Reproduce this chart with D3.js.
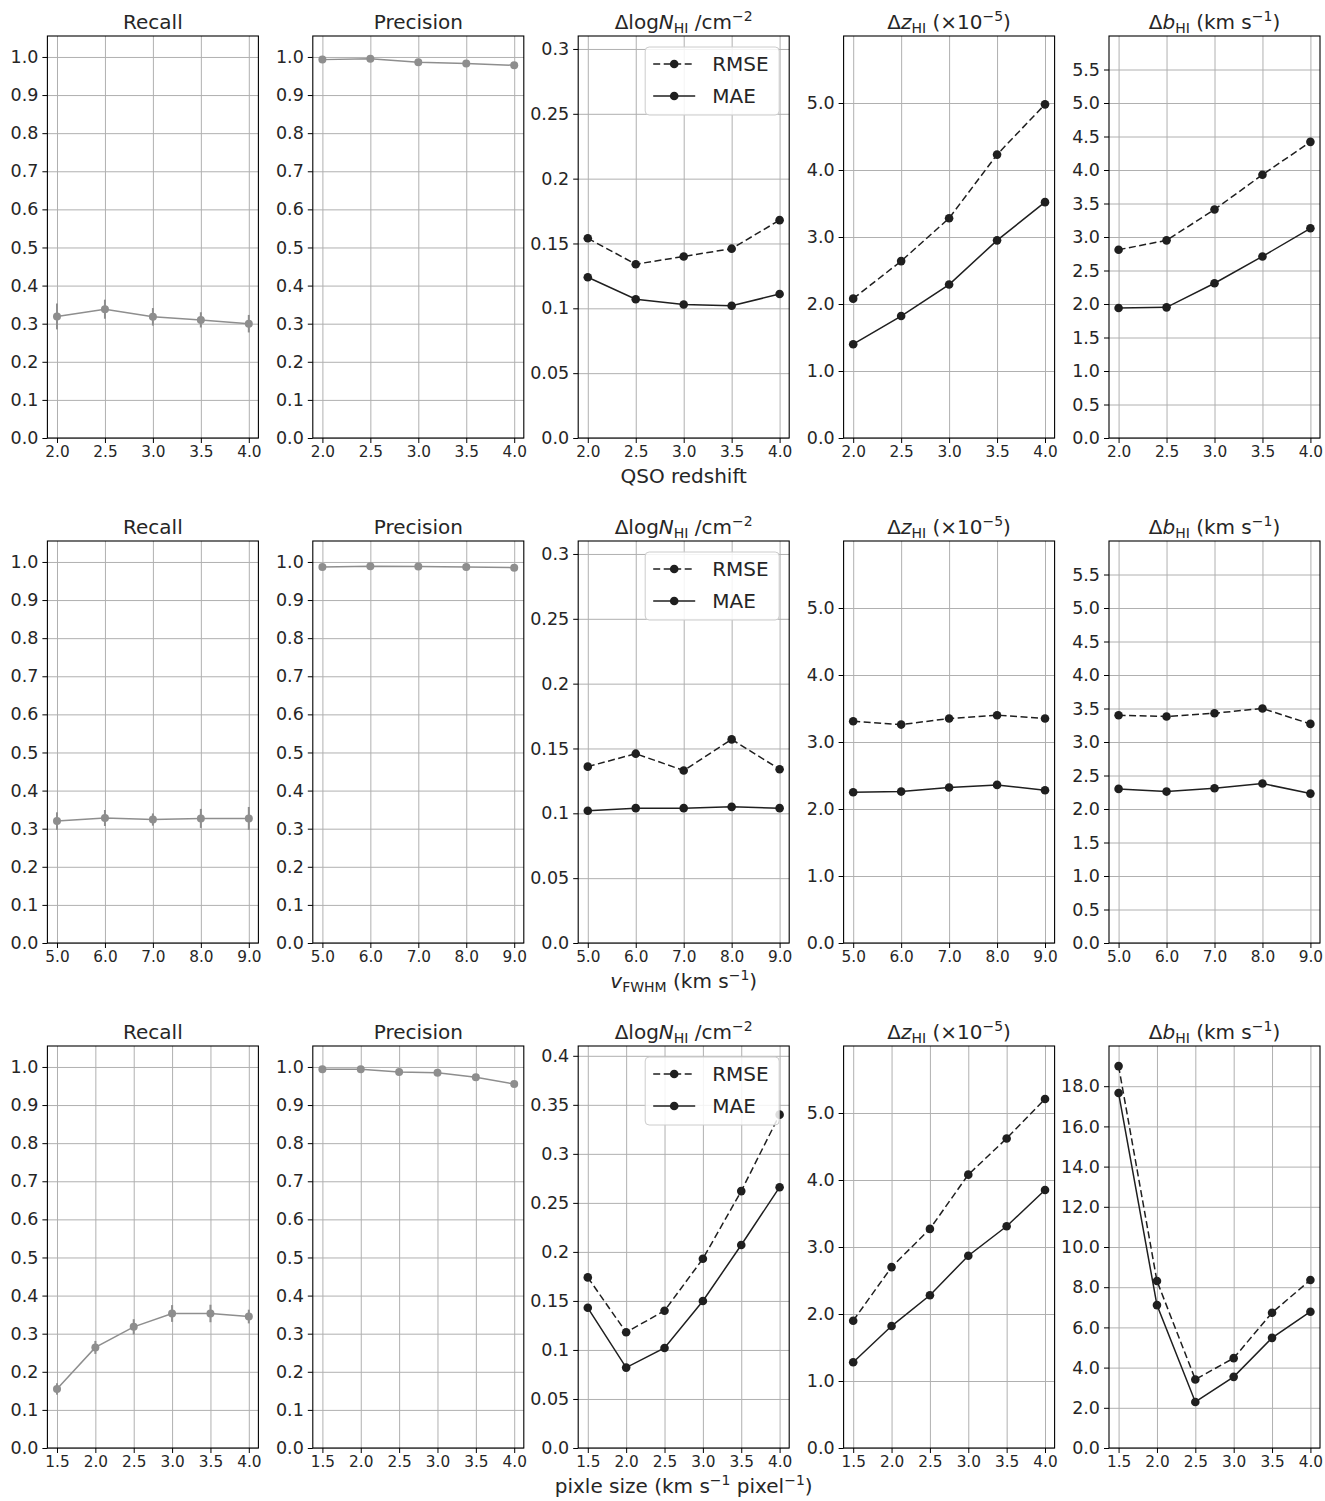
<!DOCTYPE html>
<html>
<head>
<meta charset="utf-8">
<script src="https://cdn.jsdelivr.net/npm/d3@7"></script>
<style>
  body { margin: 0; background: #fff; }
  svg { display: block; }
  text { font-family: "DejaVu Sans", sans-serif; fill: #262626; }
</style>
</head>
<body>
<svg id="fig" width="1325" height="1501"></svg>
<script>
// ---- x values of the three experiments ----
const redshiftX = [2.0, 2.5, 3.0, 3.5, 4.0];
const fwhmX = [5.0, 6.0, 7.0, 8.0, 9.0];
const pixelX = [1.5, 2.0, 2.5, 3.0, 3.5, 4.0];

// ---- x tick labels ----
const redshiftTicks = ["2.0", "2.5", "3.0", "3.5", "4.0"];
const fwhmTicks = ["5.0", "6.0", "7.0", "8.0", "9.0"];
const pixelTicks = ["1.5", "2.0", "2.5", "3.0", "3.5", "4.0"];

// ---- y tick labels ----
const unitTicks = ["0.0", "0.1", "0.2", "0.3", "0.4", "0.5", "0.6", "0.7", "0.8", "0.9", "1.0"];
const logNTicks = ["0.0", "0.05", "0.1", "0.15", "0.2", "0.25", "0.3"];
const logNTicksWide = ["0.0", "0.05", "0.1", "0.15", "0.2", "0.25", "0.3", "0.35", "0.4"];
const zTicks = ["0.0", "1.0", "2.0", "3.0", "4.0", "5.0"];
const bTicks = ["0.0", "0.5", "1.0", "1.5", "2.0", "2.5", "3.0", "3.5", "4.0", "4.5", "5.0", "5.5"];
const bTicksWide = ["0.0", "2.0", "4.0", "6.0", "8.0", "10.0", "12.0", "14.0", "16.0", "18.0"];

// ---- recall (with errors) ----
const recallRedshift = [0.319, 0.338, 0.318, 0.310, 0.300];
const recallRedshiftErr = [0.034, 0.025, 0.023, 0.020, 0.023];
const recallFwhm = [0.320, 0.328, 0.324, 0.327, 0.327];
const recallFwhmErr = [0.023, 0.021, 0.016, 0.025, 0.030];
const recallPixel = [0.155, 0.264, 0.318, 0.353, 0.353, 0.345];
const recallPixelErr = [0.015, 0.017, 0.020, 0.022, 0.023, 0.018];

// ---- precision ----
const precisionRedshift = [0.993, 0.995, 0.986, 0.983, 0.978];
const precisionFwhm = [0.987, 0.989, 0.988, 0.987, 0.985];
const precisionPixel = [0.994, 0.994, 0.987, 0.985, 0.973, 0.955];

// ---- column density errors ----
const logNRmseRedshift = [0.154, 0.134, 0.140, 0.146, 0.168];
const logNMaeRedshift = [0.124, 0.107, 0.103, 0.102, 0.111];
const logNRmseFwhm = [0.136, 0.146, 0.133, 0.157, 0.134];
const logNMaeFwhm = [0.102, 0.104, 0.104, 0.105, 0.104];
const logNRmsePixel = [0.174, 0.118, 0.140, 0.193, 0.262, 0.340];
const logNMaePixel = [0.143, 0.082, 0.102, 0.150, 0.207, 0.266];

// ---- redshift errors (x1e-5) ----
const zRmseRedshift = [2.08, 2.64, 3.28, 4.23, 4.98];
const zMaeRedshift = [1.40, 1.82, 2.29, 2.95, 3.52];
const zRmseFwhm = [3.31, 3.26, 3.35, 3.40, 3.35];
const zMaeFwhm = [2.25, 2.26, 2.32, 2.36, 2.28];
const zRmsePixel = [1.90, 2.70, 3.27, 4.08, 4.62, 5.21];
const zMaePixel = [1.28, 1.82, 2.28, 2.87, 3.31, 3.85];

// ---- Doppler parameter errors ----
const bRmseRedshift = [2.81, 2.95, 3.41, 3.93, 4.42];
const bMaeRedshift = [1.94, 1.95, 2.31, 2.71, 3.13];
const bRmseFwhm = [3.40, 3.38, 3.43, 3.50, 3.27];
const bMaeFwhm = [2.30, 2.26, 2.31, 2.38, 2.23];
const bRmsePixel = [19.0, 8.31, 3.41, 4.47, 6.73, 8.36];
const bMaePixel = [17.66, 7.11, 2.29, 3.54, 5.48, 6.78];

const seriesNames = ["RMSE", "MAE"];

// ---- titles / axis labels as rich-text segments ----
const titleRecall = [{ t: "Recall" }];
const titlePrecision = [{ t: "Precision" }];
const titleLogN = [{ t: "\u0394log" }, { t: "N", i: 1 }, { t: "HI", sub: 1 }, { t: " /cm" }, { t: "\u22122", sup: 1 }];
const titleZ = [{ t: "\u0394" }, { t: "z", i: 1 }, { t: "HI", sub: 1 }, { t: " (\u00d710" }, { t: "\u22125", sup: 1 }, { t: ")" }];
const titleB = [{ t: "\u0394" }, { t: "b", i: 1 }, { t: "HI", sub: 1 }, { t: " (km s" }, { t: "\u22121", sup: 1 }, { t: ")" }];
const xlabelRedshift = [{ t: "QSO redshift" }];
const xlabelFwhm = [{ t: "v", i: 1 }, { t: "FWHM", sub: 1 }, { t: " (km s" }, { t: "\u22121", sup: 1 }, { t: ")" }];
const xlabelPixel = [{ t: "pixle size (km s" }, { t: "\u22121", sup: 1 }, { t: " pixel" }, { t: "\u22121", sup: 1 }, { t: ")" }];

// ---- styling ----
const GRAY = "#8e8e8e";
const BLACK = "#1f1f1f";
const GRID = "#b0b0b0";

const panelW = 211, panelH = 402;
const colLeft = [47.4, 312.8, 578.2, 843.6, 1109.0];
const rowTop = [36, 541, 1046];

const svg = d3.select("#fig");

function richText(sel, segs, size) {
  let off = 0;
  segs.forEach(s => {
    const target = s.sub ? size * 0.22 : s.sup ? -size * 0.42 : 0;
    const ts = sel.append("tspan").text(s.t).attr("dy", target - off);
    off = target;
    if (s.i) ts.attr("font-style", "italic");
    if (s.sub || s.sup) ts.attr("font-size", size * 0.7);
  });
}

const rows = [
  {
    x: redshiftX, xt: redshiftTicks, xlabel: xlabelRedshift,
    recall: recallRedshift, recallErr: recallRedshiftErr, precision: precisionRedshift,
    logN: [logNRmseRedshift, logNMaeRedshift], logNTicks: logNTicks, logNMax: 0.31,
    z: [zRmseRedshift, zMaeRedshift], b: [bRmseRedshift, bMaeRedshift], bTicks: bTicks, bMax: 6.0
  },
  {
    x: fwhmX, xt: fwhmTicks, xlabel: xlabelFwhm,
    recall: recallFwhm, recallErr: recallFwhmErr, precision: precisionFwhm,
    logN: [logNRmseFwhm, logNMaeFwhm], logNTicks: logNTicks, logNMax: 0.31,
    z: [zRmseFwhm, zMaeFwhm], b: [bRmseFwhm, bMaeFwhm], bTicks: bTicks, bMax: 6.0
  },
  {
    x: pixelX, xt: pixelTicks, xlabel: xlabelPixel,
    recall: recallPixel, recallErr: recallPixelErr, precision: precisionPixel,
    logN: [logNRmsePixel, logNMaePixel], logNTicks: logNTicksWide, logNMax: 0.41,
    z: [zRmsePixel, zMaePixel], b: [bRmsePixel, bMaePixel], bTicks: bTicksWide, bMax: 20.0
  }
];

function drawPanel(r, c, opts) {
  const L = colLeft[c], T = rowTop[r];
  const g = svg.append("g").attr("transform", `translate(${L},${T})`);
  const xs = opts.x;
  const span = d3.max(xs) - d3.min(xs);
  const x = d3.scaleLinear().domain([d3.min(xs) - 0.05 * span, d3.max(xs) + 0.05 * span]).range([0, panelW]);
  const y = d3.scaleLinear().domain([0, opts.ymax]).range([panelH, 0]);
  const xv = opts.xt.map(Number), yv = opts.yt.map(Number);

  // grid
  g.append("g").call(d3.axisBottom(x).tickValues(xv).tickSize(panelH).tickFormat(""))
    .call(a => { a.select(".domain").remove(); a.selectAll("line").attr("stroke", GRID).attr("stroke-width", 1); });
  g.append("g").call(d3.axisLeft(y).tickValues(yv).tickSize(-panelW).tickFormat(""))
    .call(a => { a.select(".domain").remove(); a.selectAll("line").attr("stroke", GRID).attr("stroke-width", 1); });

  // series
  opts.series.forEach(s => {
    const pts = xs.map((xx, i) => [xx, s.values[i]]);
    g.append("path").datum(pts)
      .attr("fill", "none").attr("stroke", s.color).attr("stroke-width", 1.5)
      .attr("stroke-dasharray", s.dash || null)
      .attr("d", d3.line().x(d => x(d[0])).y(d => y(d[1])));
    if (s.err) {
      g.selectAll(null).data(pts).enter().append("line")
        .attr("x1", d => x(d[0])).attr("x2", d => x(d[0]))
        .attr("y1", (d, i) => y(d[1] - s.err[i])).attr("y2", (d, i) => y(d[1] + s.err[i]))
        .attr("stroke", s.color).attr("stroke-width", 2);
    }
    g.selectAll(null).data(pts).enter().append("circle")
      .attr("cx", d => x(d[0])).attr("cy", d => y(d[1])).attr("r", s.r)
      .attr("fill", s.color);
  });

  // axes with ticks
  g.append("g").attr("transform", `translate(0,${panelH})`)
    .call(d3.axisBottom(x).tickValues(xv).tickFormat((d, i) => opts.xt[i]).tickSize(5).tickPadding(3))
    .call(a => {
      a.select(".domain").remove();
      a.selectAll("line").attr("stroke", "#000").attr("stroke-width", 1);
      a.selectAll("text").attr("font-size", 15.3).attr("font-family", "DejaVu Sans").attr("fill", "#262626");
    });
  g.append("g")
    .call(d3.axisLeft(y).tickValues(yv).tickFormat((d, i) => opts.yt[i]).tickSize(5).tickPadding(4))
    .call(a => {
      a.select(".domain").remove();
      a.selectAll("line").attr("stroke", "#000").attr("stroke-width", 1);
      a.selectAll("text").attr("font-size", 17.5).attr("font-family", "DejaVu Sans").attr("fill", "#262626");
    });

  // frame
  g.append("rect").attr("width", panelW).attr("height", panelH)
    .attr("fill", "none").attr("stroke", "#000").attr("stroke-width", 1.1);

  // title
  const t = g.append("text").attr("x", panelW / 2).attr("y", -7)
    .attr("text-anchor", "middle").attr("font-size", 20);
  richText(t, opts.title, 20);

  // legend
  if (opts.legend) {
    const lg = g.append("g").attr("transform", `translate(${panelW - 144},${11})`);
    lg.append("rect").attr("width", 134).attr("height", 68).attr("rx", 4)
      .attr("fill", "#fff").attr("fill-opacity", 0.85).attr("stroke", "#cccccc").attr("stroke-width", 1);
    opts.series.forEach((s, i) => {
      const cy = 17 + i * 32;
      lg.append("line").attr("x1", 8).attr("x2", 50).attr("y1", cy).attr("y2", cy)
        .attr("stroke", s.color).attr("stroke-width", 1.5).attr("stroke-dasharray", s.dash || null);
      lg.append("circle").attr("cx", 29).attr("cy", cy).attr("r", s.r).attr("fill", s.color);
      lg.append("text").attr("x", 67).attr("y", cy).attr("dy", "0.36em")
        .attr("font-size", 20).text(seriesNames[i]);
    });
  }
}

rows.forEach((row, r) => {
  const blackPair = vals => [
    { values: vals[0], color: BLACK, dash: "7,3.5", r: 4.3 },
    { values: vals[1], color: BLACK, r: 4.3 }
  ];
  drawPanel(r, 0, { x: row.x, xt: row.xt, yt: unitTicks, ymax: 1.055, title: titleRecall,
    series: [{ values: row.recall, err: row.recallErr, color: GRAY, r: 4 }] });
  drawPanel(r, 1, { x: row.x, xt: row.xt, yt: unitTicks, ymax: 1.055, title: titlePrecision,
    series: [{ values: row.precision, color: GRAY, r: 4 }] });
  drawPanel(r, 2, { x: row.x, xt: row.xt, yt: row.logNTicks, ymax: row.logNMax, title: titleLogN,
    series: blackPair(row.logN), legend: true });
  drawPanel(r, 3, { x: row.x, xt: row.xt, yt: zTicks, ymax: 6.0, title: titleZ,
    series: blackPair(row.z) });
  drawPanel(r, 4, { x: row.x, xt: row.xt, yt: row.bTicks, ymax: row.bMax, title: titleB,
    series: blackPair(row.b) });

  // shared x label under the middle column
  const xl = svg.append("text")
    .attr("x", colLeft[2] + panelW / 2).attr("y", rowTop[r] + panelH + 45)
    .attr("text-anchor", "middle").attr("font-size", 20);
  richText(xl, row.xlabel, 20);
});
</script>
</body>
</html>
